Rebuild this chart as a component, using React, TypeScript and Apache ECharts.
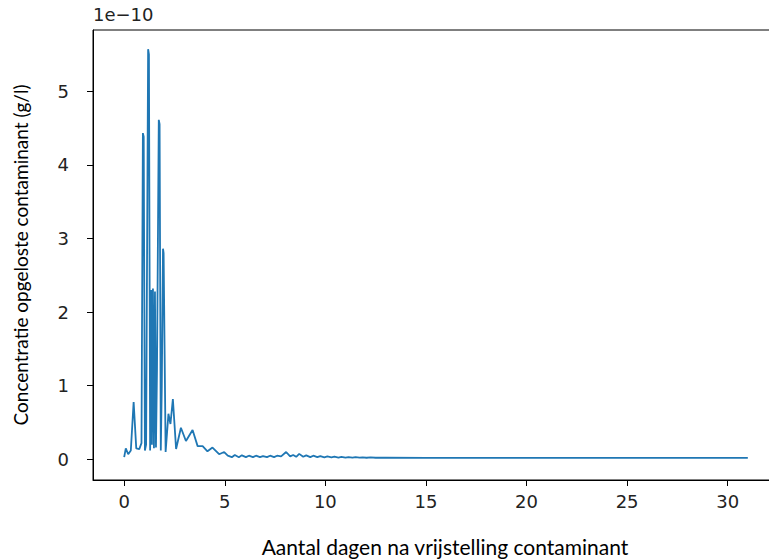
import React, { useEffect, useRef } from "react";
import * as echarts from "echarts";

// Days after release (x) and dissolved concentration in units of 1e-10 g/l (y)
const days: number[] = [
  0, 0.08, 0.2, 0.33, 0.47, 0.6, 0.75, 0.86, 0.93, 0.97, 1.03, 1.09, 1.19, 1.23, 1.29, 1.34, 1.38, 1.43, 1.48,
  1.53, 1.58, 1.63, 1.72, 1.76, 1.82, 1.87, 1.93, 1.96, 2.06,
  2.2, 2.3, 2.42, 2.58, 2.82, 3.07, 3.4, 3.65, 3.9, 4.14, 4.39, 4.72, 4.97,
  5.15, 5.35, 5.5, 5.7, 5.85, 6.05, 6.2, 6.4, 6.55, 6.75, 6.9, 7.1, 7.25, 7.45, 7.6, 7.8, 8.05, 8.25, 8.4,
  8.55, 8.7, 8.9, 9.05, 9.25, 9.4, 9.6, 9.75, 9.95, 10.1, 10.3, 10.45, 10.65, 10.8, 11.0, 11.15, 11.35,
  11.5, 11.7, 11.85, 12.05, 12.25, 12.5, 13, 15, 20, 25, 31,
];
const conc: number[] = [
  0.03, 0.15, 0.07, 0.12, 0.78, 0.15, 0.14, 0.22, 4.43, 4.38, 0.12, 0.2, 5.57, 5.5, 0.12, 2.3, 0.2, 2.32, 0.15,
  2.28, 0.16, 1.2, 4.61, 4.55, 0.12, 1.0, 2.86, 2.8, 0.1,
  0.62, 0.48, 0.82, 0.14, 0.43, 0.25, 0.4, 0.18, 0.18, 0.11, 0.16, 0.07, 0.1,
  0.05, 0.03, 0.06, 0.03, 0.055, 0.03, 0.05, 0.03, 0.05, 0.03, 0.045, 0.03, 0.05, 0.03, 0.05, 0.04, 0.1, 0.04, 0.06,
  0.035, 0.075, 0.035, 0.055, 0.03, 0.05, 0.03, 0.045, 0.028, 0.04, 0.027, 0.038, 0.025, 0.035, 0.025, 0.032, 0.024,
  0.03, 0.023, 0.028, 0.022, 0.026, 0.022, 0.022, 0.021, 0.02, 0.02, 0.02,
];
const xTicks: number[] = [0, 5, 10, 15, 20, 25, 30];
const yTicks: number[] = [0, 1, 2, 3, 4, 5];
const xTitle = "Aantal dagen na vrijstelling contaminant";
const yTitle = "Concentratie opgeloste contaminant (g/l)";
const offsetText = "1e\u221210";

export default function App() {
  const ref = useRef<HTMLDivElement>(null);
  useEffect(() => {
    if (!ref.current) return;
    const chart = echarts.init(ref.current, null, { renderer: "svg" });
    const data = days.map((d, i) => [d, conc[i]]);
    chart.setOption({
      animation: false,
      backgroundColor: "#ffffff",
      grid: {
        left: 93,
        top: 30,
        right: -10,
        bottom: 79,
        show: true,
        borderColor: "#000",
        borderWidth: 1,
        outerBoundsMode: "none",
        containLabel: false,
      },
      xAxis: {
        type: "value",
        min: -1.55,
        max: 32.55,
        axisLine: { show: true, onZero: false, lineStyle: { color: "#000", width: 1 } },
        axisTick: { show: true, length: 6, customValues: xTicks, lineStyle: { color: "#000" } },
        axisLabel: {
          customValues: xTicks,
          margin: 12,
          color: "#222",
          fontFamily: "DejaVu Sans",
          fontSize: 18,
        },
        splitLine: { show: false },
      },
      yAxis: {
        type: "value",
        min: -0.28,
        max: 5.83,
        axisLine: { show: true, onZero: false, lineStyle: { color: "#000", width: 1 } },
        axisTick: { show: true, length: 6, customValues: yTicks, lineStyle: { color: "#000" } },
        axisLabel: {
          customValues: yTicks,
          margin: 24,
          color: "#222",
          fontFamily: "DejaVu Sans",
          fontSize: 18,
        },
        splitLine: { show: false },
      },
      graphic: [
        {
          type: "text",
          left: 93,
          top: 5,
          style: { text: offsetText, fontFamily: "DejaVu Sans", fontSize: 18, fill: "#222" },
        },
        {
          type: "text",
          x: 445,
          y: 546,
          style: {
            text: xTitle,
            fontFamily: "Lato",
            fontSize: 21,
            fill: "#000",
            align: "center",
            verticalAlign: "middle",
          },
        },
        {
          type: "text",
          x: 20,
          y: 255,
          rotation: Math.PI / 2,
          style: {
            text: yTitle,
            fontFamily: "Lato",
            fontSize: 19,
            fill: "#000",
            align: "center",
            verticalAlign: "middle",
          },
        },
      ],
      series: [
        {
          type: "line",
          data,
          showSymbol: false,
          lineStyle: { color: "#1f77b4", width: 1.8 },
          itemStyle: { color: "#1f77b4" },
        },
      ],
    });
    return () => chart.dispose();
  }, []);
  return (
    <div
      ref={ref}
      style={{ position: "absolute", left: 0, top: 0, width: 769, height: 559, background: "#fff" }}
    />
  );
}
